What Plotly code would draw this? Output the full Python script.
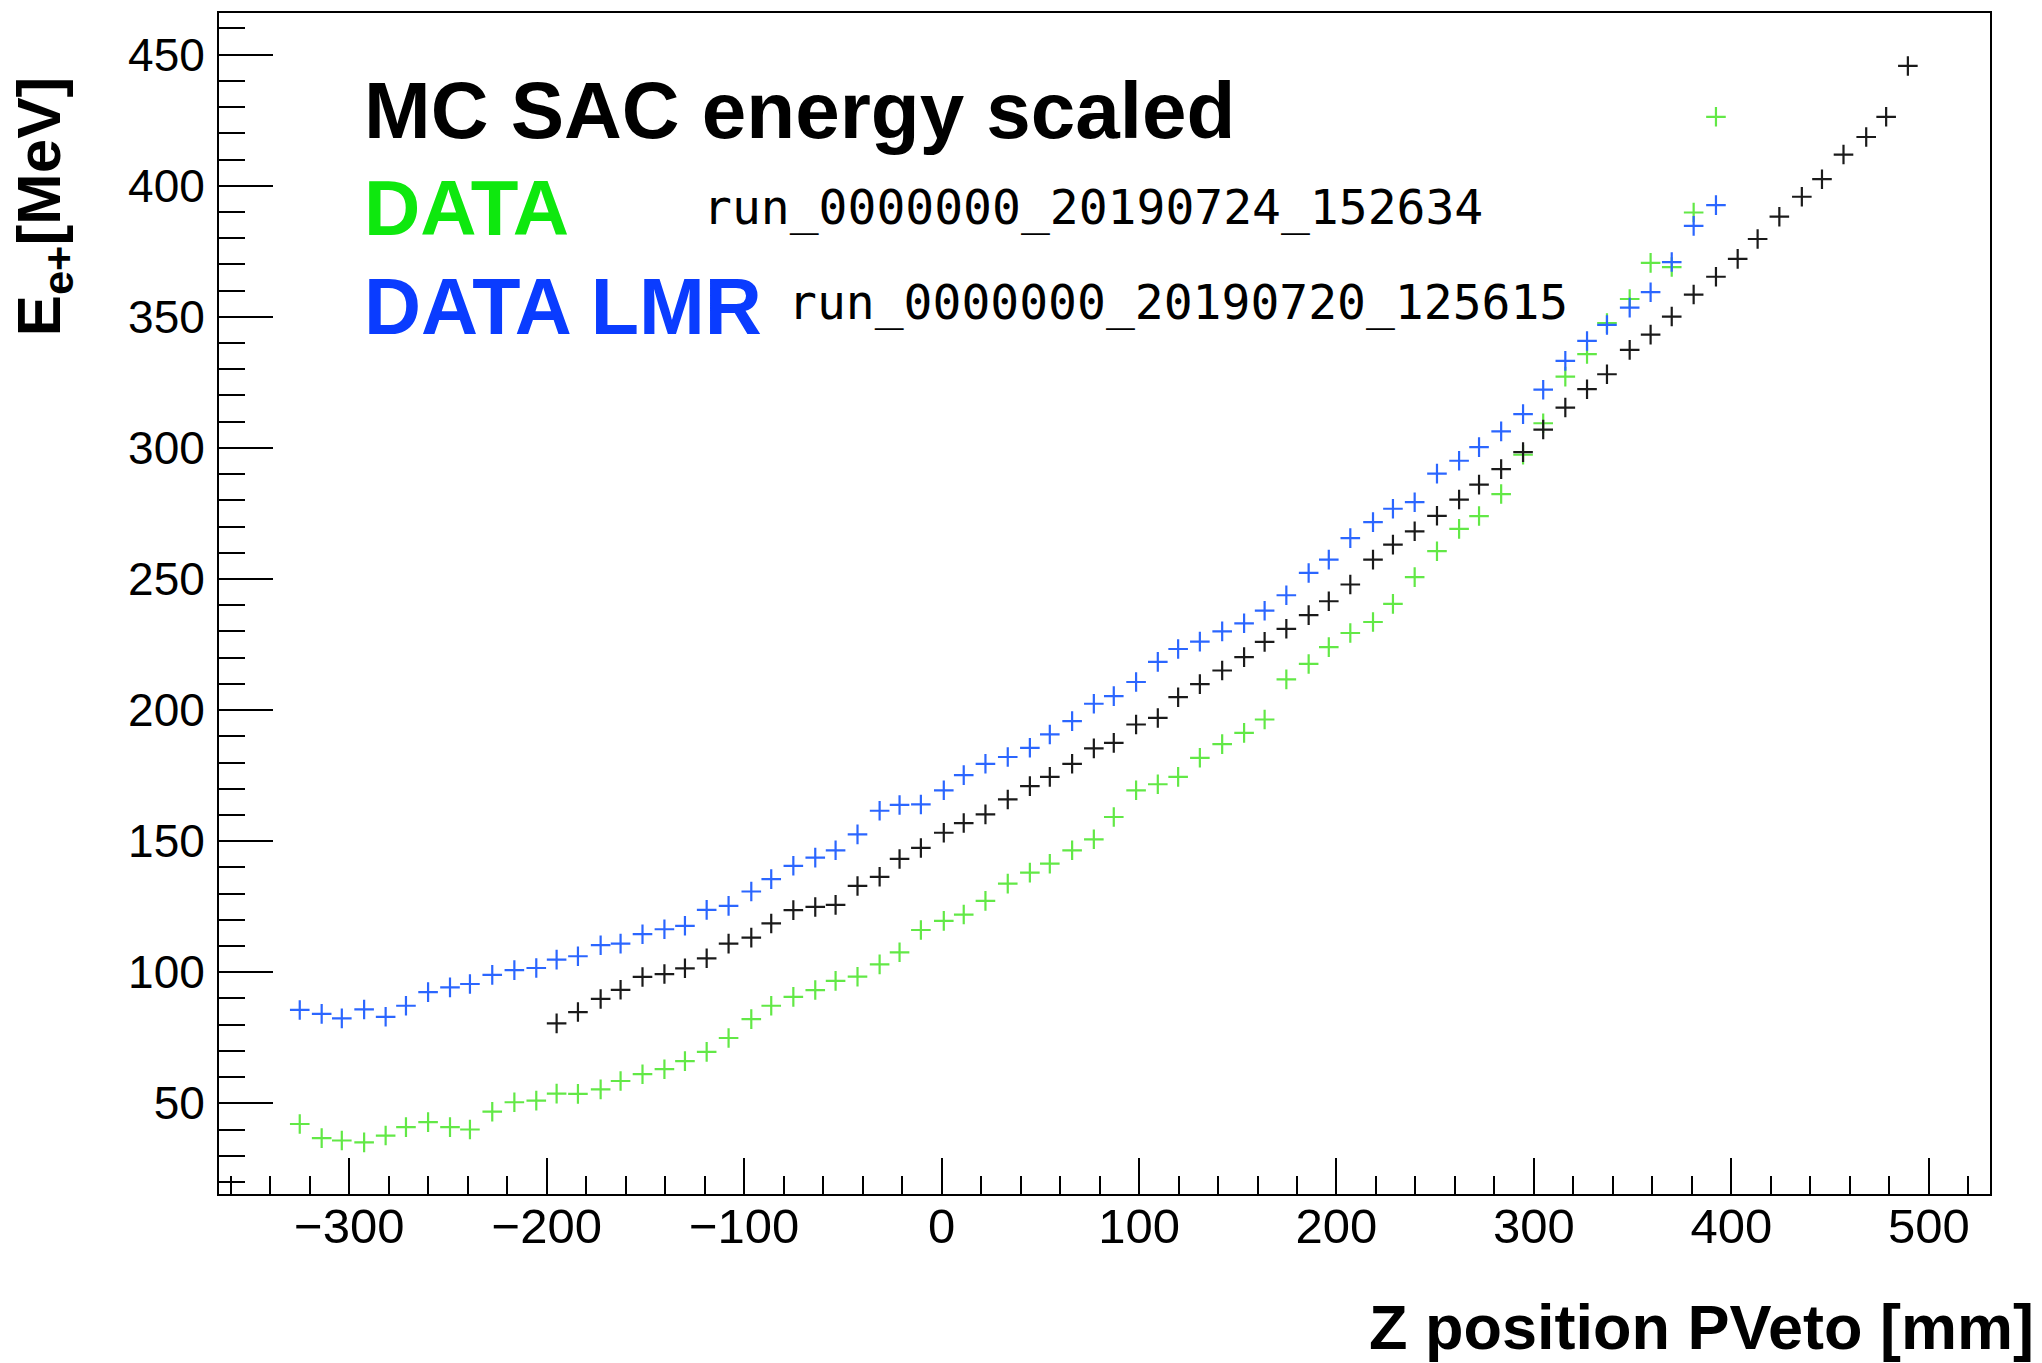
import plotly.graph_objects as go

# ---------------- data ----------------
z_positions = [-325.1, -314.0, -303.8, -292.5, -281.6, -271.3, -260.1, -249.0, -238.9, -227.6,
               -216.4, -205.3, -195.0, -184.2, -172.7, -162.6, -151.5, -140.4, -130.0, -119.0,
               -107.9, -96.4, -86.3, -75.1, -64.0, -53.7, -42.6, -31.4, -21.3, -10.5,
               1.1, 11.2, 22.2, 33.5, 44.7, 54.8, 66.1, 77.1, 87.2, 98.5,
               109.5, 119.8, 130.8, 142.1, 153.2, 163.6, 174.6, 185.9, 196.1, 207.0,
               218.5, 228.6, 239.6, 250.9, 262.1, 272.2, 283.4, 294.5, 304.7, 315.9,
               326.9, 337.0, 348.5, 359.1, 369.8, 380.9, 392.2, 403.2, 413.3, 424.3,
               435.7, 445.9, 456.8, 468.3, 478.4, 489.4]

# DATA run_0000000_20190724_152634 (green)
e_data = [42.1, 36.7, 35.8, 35.1, 37.7, 40.9, 42.8, 40.9, 40.0, 46.8,
          50.4, 51.0, 53.7, 53.6, 55.3, 58.5, 61.1, 63.0, 66.1, 69.6,
          74.9, 82.1, 87.2, 90.6, 93.2, 96.7, 98.3, 103.0, 107.6, 116.1,
          119.6, 122.0, 127.2, 133.8, 138.0, 141.4, 146.5, 150.7, 159.2, 169.4,
          171.7, 174.5, 181.8, 187.0, 191.3, 196.4, 211.7, 217.6, 224.0, 229.4,
          233.6, 240.5, 250.7, 260.6, 269.1, 274.0, 282.4, 297.4, 309.4, 327.2,
          335.8, 347.6, 356.8, 370.6, 369.0, 389.8, 426.3]

# DATA LMR run_0000000_20190720_125615 (blue)
e_lmr = [85.6, 84.1, 82.4, 85.8, 83.0, 87.2, 92.4, 94.2, 95.5, 99.0,
         100.8, 101.6, 104.8, 106.1, 110.3, 110.9, 114.5, 116.4, 117.7, 123.8,
         125.3, 130.8, 135.5, 140.6, 143.7, 146.5, 152.6, 161.6, 163.8, 164.0,
         169.4, 175.2, 179.5, 182.1, 185.6, 190.7, 195.8, 202.4, 205.3, 210.7,
         218.4, 223.3, 226.1, 230.0, 233.1, 237.9, 243.8, 252.3, 257.4, 265.6,
         271.7, 276.8, 279.3, 290.2, 295.1, 300.3, 306.3, 312.9, 322.2, 333.2,
         340.8, 346.9, 353.5, 359.4, 370.9, 384.7, 392.6]

# MC SAC energy scaled (black), starts at the 13th z position
mc_first_index = 12
e_mc = [80.5, 84.8, 89.8, 93.3, 98.2, 99.3, 101.5, 105.3, 110.9, 113.2,
        118.6, 123.7, 124.9, 125.7, 132.9, 136.4, 143.2, 147.4, 153.2, 156.9,
        160.2, 165.9, 171.0, 174.5, 179.5, 185.4, 187.5, 194.5, 197.0, 204.9,
        209.9, 215.1, 220.2, 226.0, 231.0, 236.2, 241.5, 247.9, 257.4, 263.1,
        268.2, 274.1, 280.3, 286.0, 291.9, 298.4, 307.0, 315.4, 322.4, 328.1,
        337.4, 343.2, 350.1, 358.5, 365.3, 372.1, 379.7, 388.2, 395.8, 402.5,
        411.9, 418.6, 426.3, 445.7]

x_range = [-366, 531]
y_range = [15.4, 465.9]

# ---------------- figure ----------------
W, H = 2042, 1363
ML, MR, MT, MB = 219, 52, 11, 169
PW, PH = W - ML - MR, H - MT - MB


def px_x(p):
    return (p - ML) / PW


def px_y(p):
    return (H - MB - p) / PH


fig = go.Figure()


def add_series(x, y, color):
    fig.add_trace(go.Scatter(
        x=x, y=y, mode="markers", showlegend=False,
        marker=dict(symbol="cross-thin", size=14, color=color,
                    line=dict(width=2.2, color=color)),
    ))


add_series(z_positions[:len(e_data)], e_data, "#62e846")
add_series(z_positions[:len(e_lmr)], e_lmr, "#2b66ff")
add_series(z_positions[mc_first_index:mc_first_index + len(e_mc)], e_mc, "#1a1a1a")

axis_common = dict(
    showline=True, linecolor="black", linewidth=2, mirror=True,
    ticks="inside", tickcolor="black", tickwidth=2,
    showgrid=False, zeroline=False,
)

fig.update_layout(
    width=W, height=H,
    margin=dict(l=ML, r=MR, t=MT, b=MB, pad=0),
    paper_bgcolor="white", plot_bgcolor="white",
    xaxis=dict(
        range=x_range, tick0=0, dtick=100, ticklen=36,
        minor=dict(dtick=20, ticklen=18, ticks="inside", tickwidth=2, tickcolor="black"),
        tickfont=dict(family="Liberation Sans", size=49, color="black"),
        ticklabelstandoff=-12,
        **axis_common,
    ),
    yaxis=dict(
        range=y_range, tick0=0, dtick=50, ticklen=54,
        minor=dict(dtick=10, ticklen=26, ticks="inside", tickwidth=2, tickcolor="black"),
        tickfont=dict(family="Liberation Sans", size=46, color="black"),
        ticklabelstandoff=3,
        **axis_common,
    ),
)

bold = "Liberation Sans"
annotations = [
    # axis titles
    dict(text="<b>Z position PVeto [mm]</b>", x=px_x(2035), y=px_y(1327),
         xanchor="right", yanchor="middle", borderpad=0,
         font=dict(family=bold, size=63, color="black")),
    dict(text="<b>E<sub>e+</sub>[MeV]</b>", x=px_x(42.5), y=px_y(73),
         xanchor="center", yanchor="top", textangle=-90,
         font=dict(family=bold, size=62, color="black")),
    # labels
    dict(text="<b>MC SAC energy scaled</b>", x=px_x(362), y=px_y(108.3),
         xanchor="left", yanchor="middle",
         font=dict(family=bold, size=80, color="black")),
    dict(text="<b>DATA</b>", x=px_x(362), y=px_y(206.3),
         xanchor="left", yanchor="middle",
         font=dict(family=bold, size=78, color="#0ee80e")),
    dict(text="<b>DATA LMR</b>", x=px_x(362), y=px_y(304.7),
         xanchor="left", yanchor="middle",
         font=dict(family=bold, size=79, color="#0a3cff")),
    dict(text="run_0000000_20190724_152634", x=px_x(701), y=px_y(205.4),
         xanchor="left", yanchor="middle",
         font=dict(family="DejaVu Sans Mono", size=48, color="black")),
    dict(text="run_0000000_20190720_125615", x=px_x(786), y=px_y(300.4),
         xanchor="left", yanchor="middle",
         font=dict(family="DejaVu Sans Mono", size=48, color="black")),
]
for a in annotations:
    a.update(xref="paper", yref="paper", showarrow=False)
fig.update_layout(annotations=annotations)

fig.write_html("out.html")
